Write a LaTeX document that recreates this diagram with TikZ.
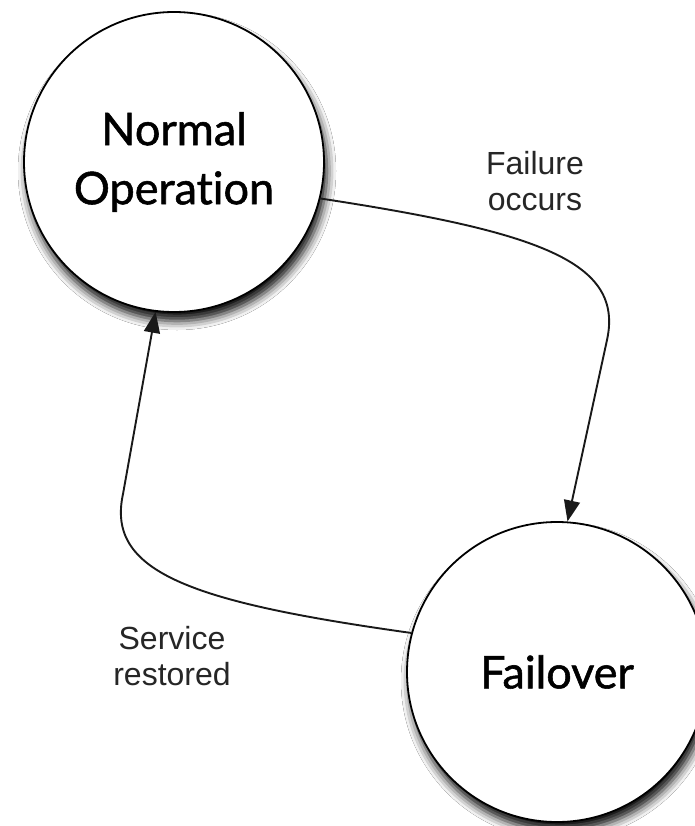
\documentclass[tikz,border=0pt]{standalone}
\usepackage{fontspec}
\setmainfont{Liberation Sans}
\newfontfamily\statefont[Ligatures=NoCommon,FakeBold=1.2]{Lato}
\usetikzlibrary{arrows.meta,shadows.blur}
\tikzset{
  state/.style={circle,draw=black,line width=1.8pt,fill=white,minimum size=300pt,inner sep=0pt,
    font=\statefont\fontsize{45}{59}\selectfont,align=center,text=black,
    blur shadow={shadow xshift=3pt,shadow yshift=-9pt,shadow blur radius=9pt,shadow opacity=95}},
  conn/.style={line width=1.9pt,draw=black!90,-{Triangle[length=21pt,width=16pt]}},
  lbl/.style={font=\fontsize{32}{36}\selectfont,align=center,text=black!85,inner sep=0pt}
}
\begin{document}
\begin{tikzpicture}[x=1pt,y=-1pt]
\useasboundingbox (0,0) rectangle (695,826);
\clip (0,0) rectangle (695,826);
\fill[white] (0,0) rectangle (695,826);
\node[state] (n1) at (174,162) {Normal\\Operation};
\node[state] (n2) at (557,672) {Failover};
\draw[conn] (n1.-14) .. controls (540,232) and (624,262) .. (607,340) -- (n2.86);
\draw[conn] (n2.165) .. controls (190,602) and (106,572) .. (123,494) -- (n1.-97);
\node[lbl] (l1) at (535,181) {Failure\\occurs};
\node[lbl] (l2) at (172,656) {Service\\restored};
\end{tikzpicture}
\end{document}
